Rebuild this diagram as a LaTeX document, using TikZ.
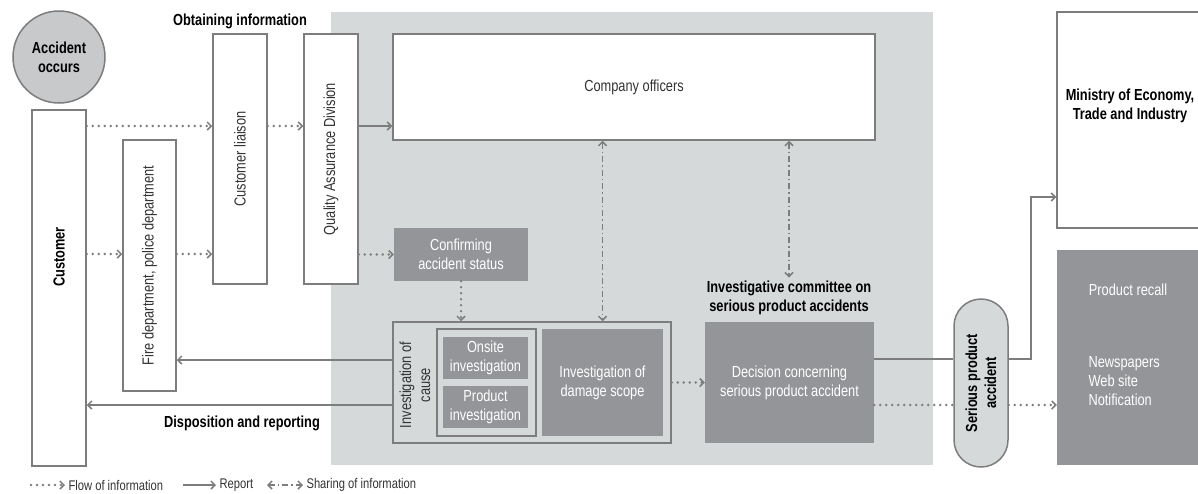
\documentclass[tikz,border=0pt]{standalone}
\usepackage{fontspec}
\setmainfont{Liberation Sans}[FakeStretch=0.8]
\usetikzlibrary{arrows.meta}
\definecolor{bggrey}{RGB}{214,217,218}
\definecolor{circgrey}{RGB}{200,201,203}
\definecolor{darkgrey}{RGB}{147,149,152}
\definecolor{linegrey}{RGB}{125,125,125}
\definecolor{txtgrey}{RGB}{51,51,51}
\tikzset{
  box/.style = {draw = linegrey, line width = 1.5pt, fill = #1, inner sep = 0pt},
  box/.default = white,
  darkbox/.style = {fill = darkgrey, text = white, inner sep = 0pt, align = center, font = \fontsize{16}{19}\selectfont},
  whitetxt/.style = {text = white, align = center, font = \fontsize{16}{19}\selectfont},
  txt/.style = {text = txtgrey, align = center, font = \fontsize{16}{19}\selectfont},
  head/.style = {text = black, align = center, font = \fontsize{16}{19}\selectfont\bfseries},
  legend/.style = {text = txtgrey, anchor = west, font = \fontsize{14}{16}\selectfont},
  flow/.style = {draw = linegrey, line width = 2.6pt, line cap = round, dash pattern = on 0pt off 6pt},
  report/.style = {draw = linegrey, line width = 1.5pt},
  share/.style = {draw = linegrey, line width = 1.5pt, dash pattern = on 6pt off 3pt on 1.5pt off 3pt},
  barb/.style = {-{Straight Barb[length=4pt, width=8pt, line width=1.5pt]}},
  barbs/.style = {{Straight Barb[length=4pt, width=8pt, line width=1.5pt]}-{Straight Barb[length=4pt, width=8pt, line width=1.5pt]}},
}

\begin{document}
\begin{tikzpicture}[x=1pt, y=-1pt]
  \useasboundingbox (0,0) rectangle (1198,493);
% company area
  \fill[bggrey] (331,12) rectangle (933,465);
% customer side
  \node[circle, draw=linegrey, line width=1.5pt, fill=circgrey, minimum size=92pt, inner sep=0pt, head] (acc) at (59,57) {Accident\\occurs};
  \node[box, minimum width=54pt, minimum height=356pt] (cust) at (59,288) {};
  \node[head, rotate=90] (custtxt) at (59,257) {Customer};
  \node[box, minimum width=53pt, minimum height=251pt] (fire) at (149.5,265.5) {};
  \node[txt, rotate=90] (firetxt) at (fire) {Fire department, police department};
  \node[box, minimum width=54pt, minimum height=250pt] (cl) at (240,159) {};
  \node[txt, rotate=90] (cltxt) at (cl) {Customer liaison};
  \node[box, minimum width=54pt, minimum height=250pt] (qa) at (331,159) {};
  \node[txt, rotate=90] (qatxt) at (qa) {Quality Assurance Division};
  \node[head] (obtain) at (240,21) {Obtaining information};
  \node[head] (dispo) at (242,423) {Disposition and reporting};
% inside the company
  \node[box, txt, minimum width=482pt, minimum height=106pt] (off) at (634,87) {Company officers};
  \node[darkbox, minimum width=134pt, minimum height=53pt] (conf) at (461,254.5) {Confirming\\accident status};
  \node[box=bggrey, minimum width=278pt, minimum height=121pt] (inv) at (532,382.5) {};
  \node[txt, rotate=90] (invtxt) at (415,385) {Investigation of\\cause};
  \node[box=bggrey, minimum width=99pt, minimum height=107pt] (sub) at (486.5,382.5) {};
  \node[darkbox, minimum width=85pt, minimum height=42pt] (onsite) at (485.5,358) {Onsite\\investigation};
  \node[darkbox, minimum width=85pt, minimum height=42pt] (prod) at (485.5,407) {Product\\investigation};
  \node[darkbox, minimum width=121pt, minimum height=107pt] (dmg) at (602.5,382.5) {Investigation of\\damage scope};
  \node[darkbox, minimum width=169pt, minimum height=121pt] (dec) at (789.5,382.5) {Decision concerning\\serious product accident};
  \node[head] (comm) at (789,298) {Investigative committee on\\serious product accidents};
% outside
  \node[box=bggrey, rounded corners=27pt, minimum width=54pt, minimum height=168pt] (pill) at (981,383) {};
  \node[head, rotate=90] (pilltxt) at (pill) {Serious product\\accident};
  \node[box, minimum width=148pt, minimum height=216pt] (meti) at (1131,120) {};
  \node[head] (metitxt) at (1130,106) {Ministry of Economy,\\Trade and Industry};
  \node[darkbox, minimum width=148pt, minimum height=215pt] (recall) at (1131,357.5) {};
  \node[whitetxt] (recalltxt) at (1128,290) {Product recall};
  \node[whitetxt, align=left, anchor=west] (media) at (1085,381) {Newspapers\\Web site\\Notification};
% connectors
  \draw[flow, barb] (cust.east |- 0,126) -- (cl.west |- 0,126);
  \draw[flow, barb] (cust.east |- 0,254) -- (fire.west |- 0,254);
  \draw[flow, barb] (fire.east |- 0,254) -- (cl.west |- 0,254);
  \draw[flow, barb] (cl.east |- 0,126) -- (qa.west |- 0,126);
  \draw[report, barb] (qa.east |- 0,126) -- (off.west |- 0,126);
  \draw[flow, barb] (qa.east |- conf) -- (conf.west);
  \draw[flow, barb] (conf.south) -- (inv.north -| conf.south);
  \draw[share, barbs] (off.south -| dmg) -- (inv.north -| dmg);
  \draw[share, barbs] (off.south -| comm) -- (comm.north);
  \draw[flow, barb] (inv.east) -- (dec.west);
  \draw[report, barb] (inv.west |- 0,360) -- (fire.east |- 0,360);
  \draw[report, barb] (inv.west |- 0,405) -- (cust.east |- 0,405);
  \draw[report] (dec.east |- 0,359) -- (pill.west |- 0,359);
  \draw[report, barb] (pill.east |- 0,359) -- ++(22,0) |- (meti.west |- 0,197);
  \draw[flow] (dec.east |- 0,405) -- (pill.west |- 0,405);
  \draw[flow, barb] (pill.east |- 0,405) -- (recall.west |- 0,405);
% legend
  \coordinate (lflow) at (31,485);
  \coordinate (lrep) at (183,485);
  \coordinate (lshare) at (267,485);
  \node[legend] (lflowtxt) at (65,485) {Flow of information};
  \node[legend] (lreptxt) at (216,485) {Report};
  \node[legend] (lsharetxt) at (303,485) {Sharing of information};
  \draw[flow, barb] (lflow) -- (lflowtxt.west);
  \draw[report, barb] (lrep) -- (lreptxt.west);
  \draw[share, barbs] (lshare) -- (lsharetxt.west);
\end{tikzpicture}
\end{document}
